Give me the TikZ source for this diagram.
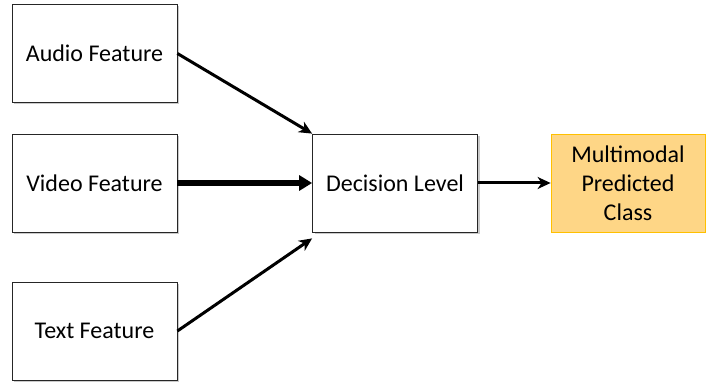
\documentclass[tikz,border=0pt]{standalone}
\usepackage{fontspec}
\setmainfont{Carlito}
\usetikzlibrary{arrows.meta,shadows}
\definecolor{orfill}{RGB}{254,214,134}
\definecolor{ordraw}{RGB}{255,192,0}
\begin{document}
\begin{tikzpicture}[x=1pt,y=-1pt,
  box/.style={draw=black!85,line width=0.8pt,fill=white,minimum width=165pt,minimum height=98pt,inner sep=0pt,font=\fontsize{24}{29}\selectfont,align=center,
    drop shadow={shadow xshift=2pt,shadow yshift=-2pt,fill=black!35,opacity=0.6}},
  outbox/.style={draw=ordraw,line width=0.8pt,fill=orfill,minimum width=154pt,minimum height=98pt,inner sep=0pt,font=\fontsize{24}{29}\selectfont,align=center},
  arr/.style={line width=3pt,-{Stealth[length=13pt,width=12pt,inset=4pt]}},
  thick arr/.style={line width=5pt,-{Triangle[length=13pt,width=15pt]}}]
\useasboundingbox (0,0) rectangle (706,382);
\node[box] (audio) at (94.5,53.5) {Audio Feature};
\node[box] (video) at (94.5,183) {Video Feature};
\node[box] (text) at (94.5,331) {Text Feature};
\node[box] (dec) at (395,183) {Decision Level};
\node[outbox] (out) at (628,183) {Multimodal\\Predicted\\Class};
\draw[arr] (audio.east) -- (dec.north west);
\draw[arr] (text.east) -- ([yshift=-6pt]dec.south west);
\draw[thick arr] (video.east) -- (dec.west);
\draw[arr] (dec.east) -- (out.west);
\end{tikzpicture}
\end{document}
